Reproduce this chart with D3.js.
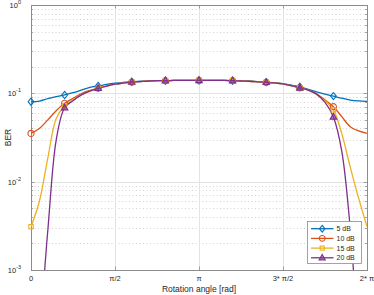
<!DOCTYPE html>
<html>
<head>
<meta charset="utf-8">
<script src="https://cdn.jsdelivr.net/npm/d3@7"></script>
<style>
  body { margin: 0; background: #fff; }
  svg { display: block; font-family: "Liberation Sans", Arial, sans-serif; }
</style>
</head>
<body>
<script>
const width = 374;
const height = 295;
const margins = { top: 5, right: 7, bottom: 25, left: 31 };

// rotation angle in units of pi
const angles = [
  0, 0.05, 0.1, 0.15, 0.2, 0.25, 0.3, 0.35, 0.4, 0.45,
  0.5, 0.55, 0.6, 0.65, 0.7, 0.75, 0.8, 0.85, 0.9, 0.95,
  1, 1.05, 1.1, 1.15, 1.2, 1.25, 1.3, 1.35, 1.4, 1.45,
  1.5, 1.55, 1.6, 1.65, 1.7, 1.75, 1.8, 1.85, 1.9, 1.95, 2,
];

const ber5 = [
  0.0804, 0.0818, 0.0869, 0.0916, 0.0958, 0.1017, 0.109, 0.117, 0.121, 0.126,
  0.13, 0.133, 0.135, 0.137, 0.138, 0.139, 0.139, 0.14, 0.14, 0.14,
  0.14, 0.14, 0.14, 0.14, 0.139, 0.139, 0.138, 0.136, 0.134, 0.132,
  0.129, 0.124, 0.119, 0.111, 0.104, 0.098, 0.093, 0.088, 0.084, 0.082, 0.081,
];

const ber10 = [
  0.0352, 0.04, 0.05, 0.0636, 0.0772, 0.0878, 0.0996, 0.108, 0.114, 0.121,
  0.127, 0.131, 0.134, 0.136, 0.138, 0.139, 0.139, 0.14, 0.14, 0.14,
  0.14, 0.14, 0.14, 0.14, 0.139, 0.138, 0.137, 0.135, 0.133, 0.131,
  0.128, 0.122, 0.115, 0.109, 0.099, 0.084, 0.0706, 0.0544, 0.0419, 0.0375, 0.0352,
];

const ber15 = [
  0.00309, 0.006, 0.0185, 0.052, 0.072, 0.084, 0.096, 0.106, 0.114, 0.121,
  0.127, 0.131, 0.134, 0.136, 0.138, 0.139, 0.139, 0.14, 0.14, 0.14,
  0.14, 0.14, 0.14, 0.14, 0.139, 0.138, 0.137, 0.135, 0.133, 0.131,
  0.128, 0.122, 0.115, 0.109, 0.097, 0.082, 0.065, 0.035, 0.0147, 0.0065, 0.0031,
];

const ber20 = [
  0.00004, 0.0002, 0.0028, 0.0296, 0.0687, 0.0826, 0.096, 0.106, 0.114, 0.121,
  0.127, 0.131, 0.134, 0.136, 0.138, 0.139, 0.139, 0.14, 0.14, 0.14,
  0.14, 0.14, 0.14, 0.14, 0.139, 0.138, 0.137, 0.135, 0.133, 0.131,
  0.128, 0.122, 0.115, 0.109, 0.098, 0.079, 0.054, 0.022, 0.003, 0.00018, 0.00004,
];

const seriesNames = ["5 dB", "10 dB", "15 dB", "20 dB"];
const colour = ["#0072BD", "#D95319", "#EDB120", "#7E2F8E"];
const markerStep = 4;

const xTicks = [0, 0.5, 1, 1.5, 2];
const xTickLabels = ["0", "\u03c0/2", "\u03c0", "3* \u03c0/2", "2* \u03c0"];
const yTicks = [1e-3, 1e-2, 1e-1, 1];
const yTickExp = ["-3", "-2", "-1", "0"];

const series = [ber5, ber10, ber15, ber20].map((v, i) => ({
  name: seriesNames[i],
  colour: colour[i],
  points: angles.map((a, j) => ({ a: a, ber: v[j], j: j })),
}));

const x = d3
  .scaleLinear()
  .domain([0, 2])
  .range([margins.left, width - margins.right]);

const y = d3
  .scaleLog()
  .domain([1e-3, 1])
  .range([height - margins.bottom, margins.top]);

const canvas = d3
  .select("body")
  .append("svg")
  .attr("width", width)
  .attr("height", height);

const x0 = x.range()[0];
const x1 = x.range()[1];
const y0 = y.range()[0];
const y1 = y.range()[1];

// minor log grid (dotted)
const minor = [];
[1e-3, 1e-2, 1e-1].forEach((d) => {
  for (let k = 2; k <= 9; k++) minor.push(d * k);
});

canvas
  .append("g")
  .selectAll("line")
  .data(minor)
  .join("line")
  .attr("x1", x0)
  .attr("x2", x1)
  .attr("y1", (d) => Math.round(y(d)) + 0.5)
  .attr("y2", (d) => Math.round(y(d)) + 0.5)
  .attr("stroke", "#c8c8c8")
  .attr("stroke-width", 0.8)
  .attr("stroke-dasharray", "1,2.5");

// major grid
canvas
  .append("g")
  .selectAll("line")
  .data(yTicks.slice(1, 3))
  .join("line")
  .attr("x1", x0)
  .attr("x2", x1)
  .attr("y1", (d) => Math.round(y(d)) + 0.5)
  .attr("y2", (d) => Math.round(y(d)) + 0.5)
  .attr("stroke", "#e3e3e3")
  .attr("stroke-width", 1);

canvas
  .append("g")
  .selectAll("line")
  .data(xTicks.slice(1, 4))
  .join("line")
  .attr("x1", (d) => Math.round(x(d)) + 0.5)
  .attr("x2", (d) => Math.round(x(d)) + 0.5)
  .attr("y1", y0)
  .attr("y2", y1)
  .attr("stroke", "#e3e3e3")
  .attr("stroke-width", 1);

// axis box and ticks
const axisColour = "#8c8c8c";

canvas
  .append("rect")
  .attr("x", x0 + 0.5)
  .attr("y", y1 + 0.5)
  .attr("width", x1 - x0)
  .attr("height", y0 - y1)
  .attr("fill", "none")
  .attr("stroke", axisColour)
  .attr("stroke-width", 1);

const ticks = canvas.append("g").attr("stroke", axisColour).attr("stroke-width", 0.8);

yTicks.forEach((d) => {
  const yy = Math.round(y(d)) + 0.5;
  ticks.append("line").attr("x1", x0).attr("x2", x0 + 3.5).attr("y1", yy).attr("y2", yy);
  ticks.append("line").attr("x1", x1).attr("x2", x1 - 3.5).attr("y1", yy).attr("y2", yy);
});

minor.forEach((d) => {
  const yy = Math.round(y(d)) + 0.5;
  ticks.append("line").attr("x1", x0).attr("x2", x0 + 2).attr("y1", yy).attr("y2", yy);
  ticks.append("line").attr("x1", x1).attr("x2", x1 - 2).attr("y1", yy).attr("y2", yy);
});

xTicks.forEach((d) => {
  const xx = Math.round(x(d)) + 0.5;
  ticks.append("line").attr("x1", xx).attr("x2", xx).attr("y1", y0).attr("y2", y0 - 3.5);
  ticks.append("line").attr("x1", xx).attr("x2", xx).attr("y1", y1).attr("y2", y1 + 3.5);
});

// tick labels
canvas
  .append("g")
  .selectAll("text")
  .data(xTicks)
  .join("text")
  .attr("x", (d) => x(d))
  .attr("y", y0 + 11)
  .attr("text-anchor", "middle")
  .attr("font-size", 7.5)
  .attr("fill", "#262626")
  .text((d, i) => xTickLabels[i]);

const yLabels = canvas
  .append("g")
  .selectAll("text")
  .data(yTicks)
  .join("text")
  .attr("x", x0 - 10)
  .attr("y", (d) => y(d) + 3)
  .attr("text-anchor", "end")
  .attr("font-size", 7.5)
  .attr("fill", "#262626");

yLabels.append("tspan").text("10");
yLabels
  .append("tspan")
  .attr("dy", -4)
  .attr("font-size", 5.5)
  .text((d, i) => yTickExp[i]);

// axis titles
canvas
  .append("text")
  .attr("x", (x0 + x1) / 2)
  .attr("y", height - 3)
  .attr("text-anchor", "middle")
  .attr("font-size", 8.5)
  .attr("fill", "#262626")
  .text("Rotation angle [rad]");

canvas
  .append("text")
  .attr("transform", "translate(11," + (y0 + y1) / 2 + ") rotate(-90)")
  .attr("text-anchor", "middle")
  .attr("font-size", 8.5)
  .attr("fill", "#262626")
  .text("BER");

// lines
canvas
  .append("clipPath")
  .attr("id", "plot-clip")
  .append("rect")
  .attr("x", x0)
  .attr("y", y1)
  .attr("width", x1 - x0)
  .attr("height", y0 - y1);

const line = d3
  .line()
  .x((d) => x(d.a))
  .y((d) => y(d.ber))
  .curve(d3.curveCatmullRom.alpha(0.5));

const plot = canvas.append("g").attr("clip-path", "url(#plot-clip)");
const markers = canvas.append("g");

function marker(sel, i, size) {
  if (i === 0) {
    sel.append("path")
      .attr("d", `M0,${-size}L${size * 0.8},0L0,${size}L${-size * 0.8},0Z`)
      .attr("fill", "none");
  } else if (i === 1) {
    sel.append("circle").attr("r", size * 0.85).attr("fill", "none");
  } else if (i === 2) {
    const s = size * 0.6;
    sel.append("rect").attr("x", -s).attr("y", -s).attr("width", 2 * s).attr("height", 2 * s)
      .attr("fill", "none");
  } else {
    sel.append("path")
      .attr("d", `M0,${-size}L${size * 0.9},${size * 0.6}L${-size * 0.9},${size * 0.6}Z`)
      .attr("fill", colour[3])
      .attr("fill-opacity", 0.55);
  }
}

series.forEach((s, i) => {
  plot
    .append("path")
    .datum(s.points)
    .attr("d", line)
    .attr("fill", "none")
    .attr("stroke", s.colour)
    .attr("stroke-width", 1.3);

  markers
    .append("g")
    .selectAll("g")
    .data(
      s.points.filter(
        (d) => d.j % markerStep === 0 && d.a < 2 && d.ber >= 1e-3
      )
    )
    .join("g")
    .attr("transform", (d) => "translate(" + x(d.a) + "," + y(d.ber) + ")")
    .attr("stroke", s.colour)
    .attr("stroke-width", 1.1)
    .each(function () {
      marker(d3.select(this), i, 3.6);
    });
});

// legend
const legend = canvas.append("g").attr("transform", "translate(307.5,221.5)");

legend
  .append("rect")
  .attr("width", 54)
  .attr("height", 42)
  .attr("fill", "#fff")
  .attr("stroke", "#8c8c8c")
  .attr("stroke-width", 0.8);

series.forEach((s, i) => {
  const row = legend.append("g").attr("transform", "translate(0," + (7.2 + i * 9.7) + ")");
  row
    .append("line")
    .attr("x1", 3.5)
    .attr("x2", 26)
    .attr("stroke", s.colour)
    .attr("stroke-width", 1.3);
  const m = row
    .append("g")
    .attr("transform", "translate(14.7,0)")
    .attr("stroke", s.colour)
    .attr("stroke-width", 1.1);
  marker(m, i, 3.4);
  row
    .append("text")
    .attr("x", 29)
    .attr("y", 2.6)
    .attr("font-size", 7)
    .attr("fill", "#262626")
    .text(s.name);
});
</script>
</body>
</html>
